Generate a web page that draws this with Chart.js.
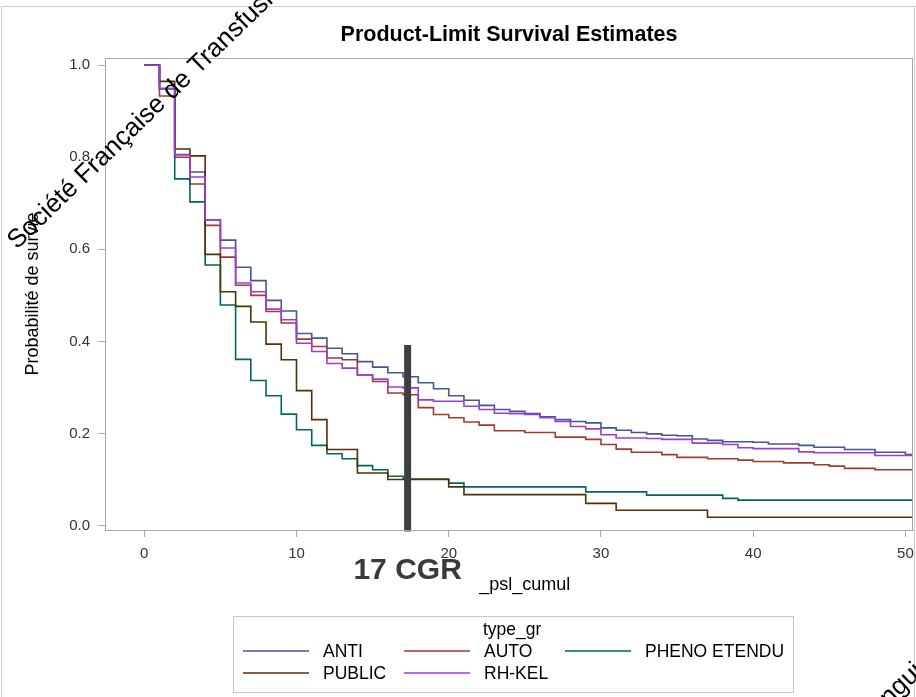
<!DOCTYPE html>
<html>
<head>
<meta charset="utf-8">
<script src="https://cdn.jsdelivr.net/npm/chart.js@4.4.0/dist/chart.umd.min.js"></script>
<style>
body { margin: 0; background: #fff; }
</style>
</head>
<body>
<canvas id="mycanvas" width="916" height="697"></canvas>
<script>
// temps (_psl_cumul) : debut de chaque palier
var mois = [0,1,2,3,4,5,6,7,8,9,10,11,12,13,14,15,16,17,18,19,20,21,22,23,24,25,
	26,27,28,29,30,31,32,33,34,35,36,37,38,39,40,41,42,43,44,45,46,47,48,49,50];
var finSuivi = 50.5;

var anti = [1.000,0.949,0.806,0.768,0.664,0.620,0.561,0.532,0.489,0.466,
	0.417,0.407,0.385,0.373,0.356,0.344,0.332,0.323,0.310,0.297,
	0.282,0.272,0.261,0.252,0.248,0.243,0.236,0.230,0.226,0.223,
	0.212,0.207,0.202,0.199,0.196,0.195,0.188,0.185,0.182,0.182,
	0.181,0.177,0.177,0.174,0.170,0.170,0.165,0.165,0.159,0.159,0.154];
var auto = [1.000,0.933,0.800,0.742,0.652,0.583,0.522,0.500,0.465,0.440,
	0.405,0.389,0.364,0.360,0.327,0.313,0.288,0.284,0.256,0.241,
	0.234,0.225,0.218,0.206,0.206,0.202,0.202,0.192,0.192,0.187,
	0.176,0.166,0.159,0.159,0.154,0.148,0.148,0.145,0.145,0.142,
	0.139,0.139,0.136,0.136,0.132,0.129,0.124,0.124,0.121,0.121,0.121];
var pheno = [1.000,0.949,0.753,0.703,0.566,0.479,0.361,0.315,0.282,0.242,
	0.208,0.174,0.156,0.145,0.130,0.121,0.107,0.101,0.101,0.101,
	0.092,0.084,0.084,0.084,0.084,0.084,0.084,0.084,0.084,0.073,
	0.073,0.073,0.073,0.066,0.066,0.066,0.066,0.066,0.059,0.055,
	0.055,0.055,0.055,0.055,0.055,0.055,0.055,0.055,0.055,0.055,0.055];
var publicG = [1.000,0.965,0.818,0.803,0.589,0.508,0.476,0.442,0.394,0.360,
	0.293,0.230,0.165,0.165,0.114,0.114,0.100,0.100,0.100,0.100,
	0.084,0.067,0.067,0.067,0.067,0.067,0.067,0.067,0.067,0.048,
	0.048,0.033,0.033,0.033,0.033,0.033,0.033,0.018,0.018,0.018,
	0.018,0.018,0.018,0.018,0.018,0.018,0.018,0.018,0.018,0.018,0.018];
var rhkel = [1.000,0.950,0.805,0.757,0.664,0.603,0.527,0.508,0.470,0.447,
	0.396,0.378,0.352,0.342,0.327,0.318,0.301,0.299,0.273,0.270,
	0.270,0.259,0.252,0.244,0.243,0.241,0.234,0.226,0.215,0.210,
	0.197,0.190,0.190,0.189,0.187,0.187,0.179,0.179,0.176,0.169,
	0.167,0.167,0.167,0.160,0.158,0.158,0.158,0.158,0.152,0.152,0.152];

var groupes = ['ANTI', 'AUTO', 'PHENO ETENDU', 'PUBLIC', 'RH-KEL'];
var couleurs = ['#445694', '#A23A2E', '#01665E', '#543005', '#9D3CDB'];
var series = [anti, auto, pheno, publicG, rhkel];

var graduationsX = [0, 10, 20, 30, 40, 50];
var graduationsY = [0, 0.2, 0.4, 0.6, 0.8, 1.0];

// repere vertical "17 CGR"
var seuilCGR = 17.3;
var seuilHaut = 0.392;
var seuilBas = -0.013;

var police = "'Liberation Sans', Arial, sans-serif";

function courbe(valeurs) {
	var pts = mois.map(function(t, i) { return {x: t, y: valeurs[i]}; });
	pts.push({x: finSuivi, y: valeurs[valeurs.length - 1]});
	return pts;
}

var datasets = [];
for (var i = 0; i < groupes.length; i++) {
	datasets.push({
		label: groupes[i],
		data: courbe(series[i]),
		borderColor: couleurs[i],
		backgroundColor: couleurs[i],
		borderWidth: 1.6,
		stepped: 'before',
		pointRadius: 0,
		fill: false,
		order: groupes.length - i
	});
}
datasets.push({
	label: '17 CGR',
	repere: true,
	data: [{x: seuilCGR, y: seuilHaut}, {x: seuilCGR, y: seuilBas}],
	borderColor: '#3e3e3e',
	borderWidth: 7,
	borderCapStyle: 'butt',
	pointRadius: 0,
	clip: false,
	order: 0
});

var decor = {
	id: 'decor',
	beforeDraw: function(chart) {
		var ctx = chart.ctx, a = chart.chartArea;
		ctx.save();
		ctx.fillStyle = '#fff';
		ctx.fillRect(0, 0, chart.width, chart.height);
		ctx.strokeStyle = '#cfcfcf';
		ctx.lineWidth = 1;
		ctx.strokeRect(1.5, 6.5, chart.width - 3, chart.height + 10);
		ctx.fillStyle = '#000';
		ctx.font = 'bold 21.5px ' + police;
		ctx.textAlign = 'center';
		ctx.textBaseline = 'middle';
		ctx.fillText('Product-Limit Survival Estimates', (a.left + a.right) / 2, 35);
		ctx.restore();
	},
	afterDraw: function(chart) {
		var ctx = chart.ctx, a = chart.chartArea, sx = chart.scales.x;
		ctx.save();
		// cadre du graphe
		ctx.strokeStyle = '#a8a8a8';
		ctx.lineWidth = 1;
		ctx.strokeRect(Math.round(a.left) + 0.5, Math.round(a.top) + 0.5,
			Math.round(a.right - a.left) - 1, Math.round(a.bottom - a.top));

		// titre de l'axe x, centre sur les graduations
		ctx.fillStyle = '#000';
		ctx.font = '18px ' + police;
		ctx.textAlign = 'center';
		ctx.textBaseline = 'middle';
		var milieu = (graduationsX[0] + graduationsX[graduationsX.length - 1]) / 2;
		ctx.fillText('_psl_cumul', sx.getPixelForValue(milieu), a.bottom + 55);

		// texte du repere
		ctx.fillStyle = '#3a3a3a';
		ctx.font = 'bold 30px ' + police;
		ctx.fillText('17 CGR', sx.getPixelForValue(seuilCGR), a.bottom + 41);

		// legende
		var lx = 233, ly = 616, lw = 560, lh = 76;
		ctx.strokeStyle = '#c8c8c8';
		ctx.strokeRect(lx + 0.5, ly + 0.5, lw, lh);
		ctx.fillStyle = '#000';
		ctx.font = '17.5px ' + police;
		ctx.textAlign = 'left';
		ctx.fillText('type_gr', 483, 630);
		var items = chart.data.datasets.filter(function(d) { return !d.repere; });
		items.forEach(function(d, k) {
			var col = k % 3, row = Math.floor(k / 3);
			var x0 = 243 + col * 161, y0 = 651 + row * 22;
			ctx.strokeStyle = d.borderColor;
			ctx.lineWidth = 1.6;
			ctx.beginPath();
			ctx.moveTo(x0, y0);
			ctx.lineTo(x0 + 66, y0);
			ctx.stroke();
			ctx.fillStyle = '#000';
			ctx.fillText(d.label, x0 + 80, y0 + 1);
		});

		// filigrane
		ctx.fillStyle = '#000';
		ctx.font = '26px ' + police;
		ctx.textBaseline = 'alphabetic';
		ctx.translate(17, 250);
		ctx.rotate(-44 * Math.PI / 180);
		ctx.fillText('Société Française de Transfusion Sanguine', 0, 0);
		ctx.restore();
		ctx.save();
		ctx.fillStyle = '#000';
		ctx.font = '26px ' + police;
		ctx.translate(866, 729);
		ctx.rotate(-44 * Math.PI / 180);
		ctx.fillText('Sanguine', 0, 0);
		ctx.restore();
	}
};

var ctx = document.getElementById('mycanvas');
var graphe = new Chart(ctx, {
	type: 'line',
	data: { datasets: datasets },
	plugins: [decor],
	options: {
		responsive: false,
		animation: false,
		layout: { padding: { top: 58, right: 3, bottom: 100, left: 0 } },
		plugins: {
			legend: { display: false },
			tooltip: { enabled: false }
		},
		scales: {
			x: {
				type: 'linear',
				min: -2.58,
				max: finSuivi,
				afterFit: function(axis) {
					axis.height = 67;
					axis.paddingLeft = 0;
					axis.paddingRight = 0;
				},
				afterBuildTicks: function(axis) {
					axis.ticks = graduationsX.map(function(v) { return {value: v}; });
				},
				grid: { drawOnChartArea: false, tickLength: 7, color: '#a8a8a8' },
				border: { color: '#a8a8a8' },
				ticks: { color: '#333', padding: 8, font: { family: police, size: 15 } }
			},
			y: {
				min: -0.0098,
				max: 1.0157,
				afterFit: function(axis) {
					axis.width = 105;
					axis.paddingTop = 0;
					axis.paddingBottom = 0;
				},
				afterBuildTicks: function(axis) {
					axis.ticks = graduationsY.map(function(v) { return {value: v}; });
				},
				grid: { drawOnChartArea: false, tickLength: 7, color: '#a8a8a8' },
				border: { color: '#a8a8a8' },
				ticks: {
					color: '#333', padding: 8, font: { family: police, size: 15 },
					callback: function(v) { return v.toFixed(1); }
				},
				title: {
					display: true, text: 'Probabilité de survie', color: '#000',
					font: { family: police, size: 18 },
					padding: { top: 22, bottom: 0 }
				}
			}
		}
	}
});
</script>
</body>
</html>
